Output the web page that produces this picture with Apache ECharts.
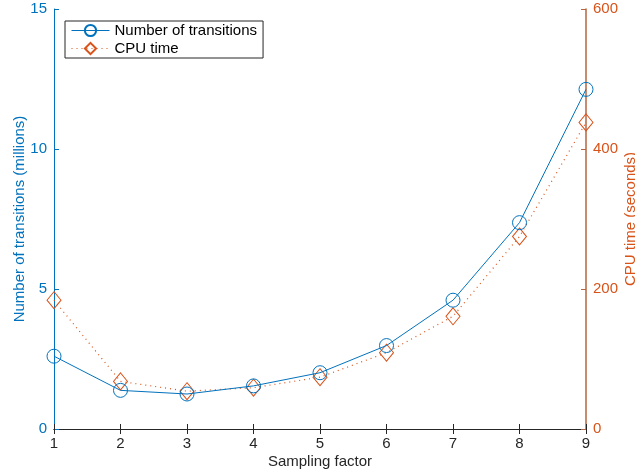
<!DOCTYPE html>
<html><head><meta charset="utf-8">
<script src="https://cdn.jsdelivr.net/npm/echarts@6/dist/echarts.min.js"></script>
<style>html,body{margin:0;padding:0;background:#fff}#c{width:635px;height:473px}</style>
</head><body><div id="c"></div>
<script>
const samplingFactor = [1, 2, 3, 4, 5, 6, 7, 8, 9];
const transitions = [2.6, 1.38, 1.25, 1.54, 2.01, 2.98, 4.6, 7.37, 12.13];
const cpuTime = [184, 68, 54, 59, 74, 109, 161, 275, 438];
const leftTicks = [0, 5, 10, 15];
const rightTicks = [0, 200, 400, 600];

const blue = '#0072BD', orange = '#D95319', rightAxisColor = '#B5653F';
const font = 'Liberation Sans, Helvetica, Arial, sans-serif';
const fs = 15;
const chart = echarts.init(document.getElementById('c'));
chart.setOption({
  animation: false,
  textStyle: { fontFamily: font },
  grid: { left: 54, right: 49, top: 9, bottom: 44, containLabel: false, outerBoundsMode: 'none' },
  legend: {
    left: 65, top: 21, orient: 'vertical',
    backgroundColor: '#fff', borderColor: '#262626', borderWidth: 1,
    padding: [2, 6, 2, 6], itemGap: 3, itemWidth: 38, itemHeight: 14,
    lineStyle: { width: 1 },
    textStyle: { fontSize: fs, color: '#000', fontFamily: font },
    data: ['Number of transitions', 'CPU time']
  },
  xAxis: [{
    type: 'value', min: 1, max: 9, interval: 1,
    name: 'Sampling factor', nameLocation: 'middle', nameGap: 25, nameMoveOverlap: false,
    nameTextStyle: { fontSize: fs, color: '#262626' },
    axisLine: { lineStyle: { color: '#262626' } },
    axisTick: { inside: true, length: 5, lineStyle: { color: '#262626' } },
    axisLabel: { fontSize: fs, color: '#262626', margin: 7 },
    splitLine: { show: false }
  }, {
    type: 'value', min: 1, max: 9, interval: 1, position: 'top',
    axisLine: { show: true, lineStyle: { color: '#262626' } },
    axisTick: { inside: true, length: 5, lineStyle: { color: '#262626' } },
    axisLabel: { show: false }, splitLine: { show: false }
  }],
  yAxis: [{
    type: 'value', min: 0, max: 15, interval: 5, position: 'left',
    name: 'Number of transitions (millions)', nameLocation: 'middle', nameGap: 27, nameMoveOverlap: false,
    nameTextStyle: { fontSize: fs, color: blue },
    axisLine: { show: true, lineStyle: { color: blue } },
    axisTick: { show: true, inside: true, length: 5, lineStyle: { color: blue } },
    axisLabel: { fontSize: fs, color: blue, margin: 7,
      formatter: v => leftTicks.includes(v) ? String(v) : '' },
    splitLine: { show: false }
  }, {
    type: 'value', min: 0, max: 600, interval: 200, position: 'right',
    name: 'CPU time (seconds)', nameLocation: 'middle', nameGap: 37, nameMoveOverlap: false,
    nameRotate: 90,
    nameTextStyle: { fontSize: fs, color: orange },
    axisLine: { show: true, lineStyle: { color: rightAxisColor, width: 1.5 } },
    axisTick: { show: true, inside: true, length: 5, lineStyle: { color: rightAxisColor } },
    axisLabel: { fontSize: fs, color: orange, margin: 7,
      formatter: v => rightTicks.includes(v) ? String(v) : '' },
    splitLine: { show: false }
  }],
  series: [{
    name: 'Number of transitions', type: 'line', xAxisIndex: 0, yAxisIndex: 0,
    data: samplingFactor.map((x, i) => [x, transitions[i]]),
    symbol: 'circle', symbolSize: 14,
    lineStyle: { color: blue, width: 1 },
    itemStyle: { color: 'rgba(0,0,0,0)', borderColor: blue, borderWidth: 1 },
    z: 3
  }, {
    name: 'CPU time', type: 'line', xAxisIndex: 0, yAxisIndex: 1,
    data: samplingFactor.map((x, i) => [x, cpuTime[i]]),
    symbol: 'path://M0,-1L0.8,0L0,1L-0.8,0Z', symbolSize: [14, 17],
    lineStyle: { color: orange, width: 1.2, type: [1, 4] },
    itemStyle: { color: 'rgba(0,0,0,0)', borderColor: orange, borderWidth: 1 },
    z: 2
  }]
});
</script></body></html>
